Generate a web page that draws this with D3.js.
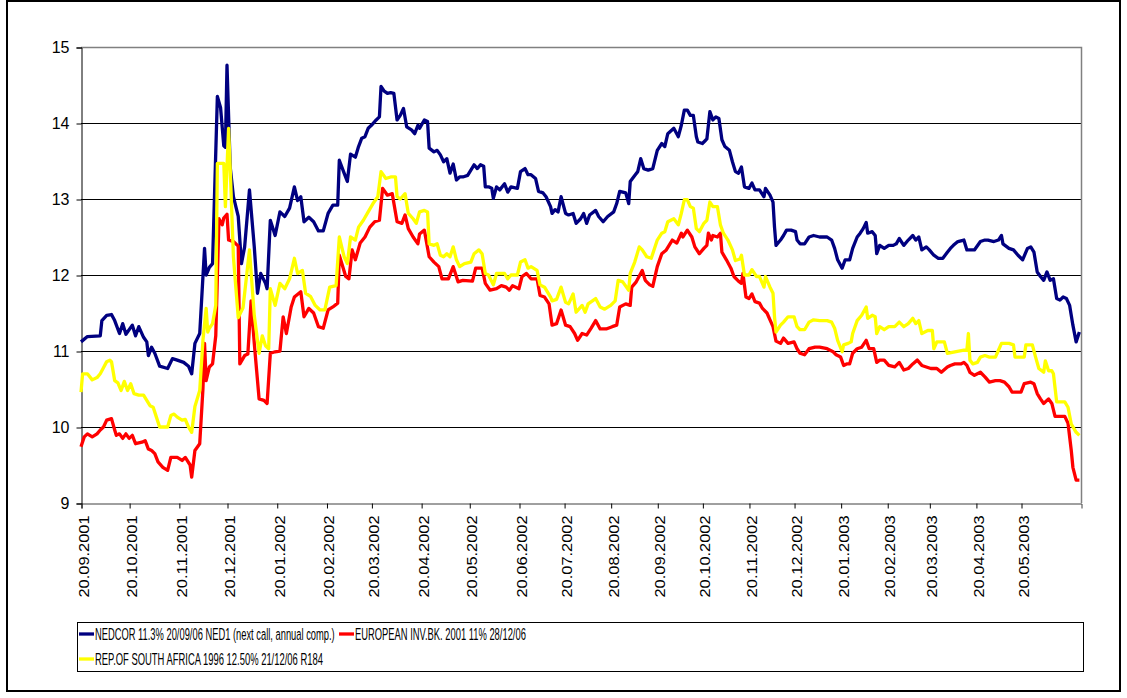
<!DOCTYPE html>
<html>
<head>
<meta charset="utf-8">
<script src="https://cdn.jsdelivr.net/npm/d3@7"></script>
<style>
body{margin:0;background:#fff}
svg{display:block;font-family:"Liberation Sans",Arial,sans-serif}
</style>
</head>
<body>
<script>
////Data
///Start of the series, every point is [days after 20.09.2001, yield in %]
var startDate = new Date(2001,8,20)

var nedcor = [[0,11.12],[4,11.19],[12,11.2],[13,11.4],[16,11.47],[19,11.48],[21,11.4],[24,11.23],[26,11.36],[28,11.22],[32,11.34],[34,11.2],[36,11.32],[39,11.18],[41,11.12],[42,10.94],[44,11.05],[46,10.97],[49,10.8],[54,10.77],[57,10.9],[60,10.88],[64,10.85],[67,10.8],[69,10.7],[71,11.1],[74,11.23],[77,12.35],[78,12.0],[80,12.1],[82,12.15],[85,14.35],[87,14.2],[89,13.7],[90,13.68],[91,14.76],[93,13.42],[95,13.03],[98,12.77],[100,12.15],[102,12.37],[105,13.12],[108,12.37],[110,11.76],[112,12.02],[115,11.89],[116,11.82],[118,12.72],[121,12.52],[124,12.83],[127,12.77],[130,12.88],[133,13.16],[135,12.98],[137,13.03],[139,12.7],[142,12.76],[145,12.7],[148,12.58],[151,12.58],[154,12.81],[157,12.92],[160,12.92],[161,13.51],[164,13.34],[166,13.23],[168,13.59],[171,13.55],[173,13.69],[175,13.8],[177,13.82],[179,13.93],[181,13.97],[184,14.04],[186,14.08],[187,14.48],[189,14.42],[191,14.39],[193,14.4],[195,14.39],[197,14.04],[199,14.1],[201,14.19],[203,13.95],[206,13.91],[208,13.86],[210,13.97],[211,13.93],[214,14.04],[216,14.02],[217,13.67],[220,13.62],[222,13.64],[224,13.58],[226,13.49],[228,13.53],[230,13.34],[232,13.46],[234,13.25],[236,13.29],[238,13.29],[241,13.31],[245,13.45],[247,13.4],[249,13.45],[251,13.43],[252,13.16],[254,13.16],[256,13.14],[257,13.01],[259,13.16],[261,13.12],[264,13.2],[266,13.09],[268,13.16],[272,13.14],[274,13.36],[277,13.4],[279,13.32],[281,13.32],[284,13.27],[286,13.1],[289,13.08],[291,13.03],[294,12.9],[295,12.81],[297,12.86],[299,12.83],[301,13.03],[304,12.81],[306,12.79],[309,12.81],[311,12.68],[314,12.74],[316,12.81],[318,12.68],[320,12.79],[324,12.85],[326,12.77],[329,12.7],[332,12.77],[336,12.83],[338,12.94],[340,13.1],[344,13.08],[346,12.94],[347,13.23],[350,13.31],[352,13.36],[354,13.53],[356,13.4],[359,13.38],[362,13.4],[365,13.64],[368,13.73],[370,13.69],[372,13.86],[376,13.93],[379,13.82],[381,13.97],[383,14.17],[385,14.17],[387,14.1],[389,14.1],[391,13.82],[392,13.75],[395,13.73],[397,13.77],[398,13.79],[400,14.15],[402,14.04],[404,14.08],[406,14.06],[408,13.78],[410,13.69],[413,13.64],[415,13.49],[417,13.36],[419,13.34],[421,13.42],[423,13.16],[426,13.14],[428,13.21],[430,13.12],[433,13.12],[436,13.03],[437,13.14],[440,13.05],[442,12.96],[443,12.63],[444,12.39],[447,12.46],[449,12.52],[451,12.59],[454,12.59],[457,12.57],[458,12.46],[460,12.41],[463,12.41],[466,12.5],[469,12.52],[473,12.5],[478,12.5],[481,12.46],[483,12.35],[485,12.2],[488,12.09],[490,12.2],[493,12.2],[495,12.35],[498,12.5],[500,12.55],[502,12.61],[504,12.69],[505,12.55],[508,12.57],[510,12.52],[511,12.28],[513,12.39],[516,12.35],[519,12.39],[522,12.39],[524,12.41],[526,12.48],[529,12.39],[532,12.46],[535,12.52],[537,12.46],[539,12.5],[541,12.33],[544,12.37],[546,12.33],[549,12.26],[552,12.22],[555,12.22],[558,12.3],[560,12.35],[562,12.39],[565,12.44],[569,12.46],[571,12.33],[574,12.33],[576,12.33],[580,12.44],[583,12.46],[585,12.46],[589,12.44],[592,12.46],[594,12.52],[595,12.41],[599,12.35],[602,12.33],[605,12.26],[608,12.2],[611,12.35],[613,12.37],[615,12.3],[617,12.04],[619,11.98],[621,11.93],[623,12.04],[625,11.93],[627,11.95],[629,11.69],[631,11.67],[633,11.71],[635,11.69],[637,11.6],[639,11.34],[641,11.12],[643,11.25]]

var eib = [[0,9.74],[2,9.87],[4,9.91],[7,9.87],[10,9.91],[12,9.96],[14,10.0],[16,10.09],[19,10.11],[21,9.96],[22,9.89],[24,9.91],[26,9.85],[28,9.91],[30,9.85],[32,9.89],[34,9.78],[38,9.8],[40,9.82],[42,9.71],[44,9.69],[46,9.65],[48,9.54],[51,9.47],[54,9.43],[56,9.6],[60,9.6],[63,9.56],[65,9.6],[68,9.5],[69,9.34],[71,9.69],[74,9.78],[76,10.5],[77,11.1],[78,10.61],[80,10.79],[82,10.83],[84,11.2],[86,12.74],[88,12.66],[89,12.75],[91,12.8],[92,12.46],[95,12.44],[98,12.38],[99,10.83],[102,10.94],[104,10.96],[106,11.66],[108,11.1],[111,10.37],[114,10.35],[116,10.31],[118,10.97],[121,10.99],[124,11.0],[126,11.45],[128,11.23],[131,11.58],[133,11.71],[137,11.78],[139,11.45],[142,11.56],[145,11.5],[148,11.32],[151,11.3],[154,11.54],[157,11.58],[160,11.63],[161,12.26],[165,11.98],[167,11.95],[169,12.33],[171,12.2],[174,12.42],[177,12.5],[180,12.63],[183,12.7],[186,12.72],[188,13.14],[191,13.05],[194,13.07],[197,12.7],[200,12.68],[202,12.79],[204,12.61],[207,12.5],[210,12.41],[211,12.54],[214,12.59],[217,12.24],[220,12.17],[223,12.11],[225,11.95],[229,11.95],[232,12.11],[235,11.91],[238,11.93],[244,11.92],[246,12.09],[250,12.09],[252,11.89],[255,11.8],[259,11.82],[262,11.86],[265,11.84],[267,11.8],[269,11.86],[273,11.82],[275,11.98],[278,12.02],[281,11.95],[285,11.95],[287,11.73],[290,11.71],[293,11.62],[295,11.34],[298,11.36],[301,11.54],[304,11.34],[307,11.32],[310,11.23],[312,11.14],[315,11.23],[318,11.21],[321,11.3],[324,11.4],[327,11.29],[331,11.29],[335,11.32],[338,11.34],[340,11.58],[344,11.62],[347,11.6],[348,11.84],[351,11.91],[355,12.06],[357,11.93],[360,11.87],[362,11.85],[365,12.11],[368,12.28],[371,12.33],[375,12.46],[378,12.42],[381,12.55],[382,12.5],[385,12.59],[388,12.5],[390,12.37],[393,12.28],[396,12.35],[398,12.39],[399,12.55],[401,12.46],[402,12.52],[405,12.5],[407,12.55],[408,12.3],[411,12.2],[414,12.09],[416,11.98],[419,11.92],[421,11.89],[422,12.02],[424,11.71],[426,11.69],[428,11.75],[430,11.65],[433,11.63],[435,11.56],[438,11.5],[440,11.41],[442,11.32],[444,11.13],[447,11.1],[449,11.17],[452,11.1],[456,11.12],[458,11.03],[460,10.97],[463,10.95],[466,11.03],[470,11.05],[473,11.05],[478,11.03],[482,10.99],[484,10.95],[487,10.92],[489,10.81],[491,10.83],[493,10.83],[495,10.97],[498,11.03],[501,11.05],[504,11.14],[506,11.03],[509,11.03],[511,10.85],[513,10.88],[516,10.88],[519,10.81],[523,10.79],[526,10.85],[529,10.75],[532,10.77],[535,10.83],[538,10.88],[541,10.81],[544,10.79],[547,10.77],[551,10.77],[554,10.72],[558,10.79],[560,10.81],[563,10.83],[567,10.83],[569,10.85],[571,10.81],[573,10.72],[576,10.68],[580,10.72],[583,10.66],[586,10.59],[590,10.61],[593,10.61],[596,10.59],[599,10.53],[601,10.46],[604,10.46],[607,10.46],[609,10.57],[613,10.59],[615,10.57],[617,10.44],[619,10.37],[621,10.31],[624,10.37],[626,10.31],[628,10.14],[634,10.14],[636,10.05],[638,9.69],[639,9.47],[641,9.3],[643,9.3]]

var rsa = [[0,10.46],[1,10.7],[4,10.7],[7,10.62],[10,10.65],[12,10.7],[14,10.78],[16,10.86],[18,10.88],[19,10.86],[21,10.61],[23,10.58],[25,10.48],[27,10.6],[29,10.48],[31,10.57],[33,10.44],[36,10.42],[39,10.42],[41,10.35],[43,10.28],[45,10.26],[47,10.13],[49,10.0],[54,10.0],[56,10.15],[58,10.17],[60,10.13],[63,10.09],[65,10.1],[67,10.0],[69,9.93],[71,10.27],[74,10.48],[76,11.14],[78,11.56],[79,11.25],[80,11.3],[82,11.36],[84,11.6],[85,13.47],[89,13.47],[90,12.9],[92,13.93],[93,13.4],[95,12.24],[98,11.44],[101,11.57],[105,12.33],[108,11.47],[111,10.97],[113,11.2],[115,11.07],[117,11.03],[118,11.82],[121,11.6],[124,11.89],[127,11.82],[130,11.95],[133,12.22],[135,12.02],[138,12.06],[140,11.76],[143,11.72],[146,11.6],[149,11.54],[152,11.54],[155,11.84],[159,11.86],[161,12.5],[164,12.24],[166,12.15],[168,12.5],[171,12.46],[173,12.63],[176,12.72],[179,12.83],[182,12.94],[185,13.03],[187,13.36],[190,13.27],[193,13.29],[196,13.29],[197,13.03],[199,13.0],[202,13.07],[204,12.81],[207,12.74],[209,12.68],[211,12.83],[214,12.85],[216,12.83],[217,12.41],[220,12.39],[222,12.41],[224,12.26],[226,12.24],[228,12.28],[230,12.24],[232,12.37],[234,12.2],[236,12.11],[239,12.15],[243,12.17],[245,12.28],[248,12.33],[250,12.28],[252,12.02],[254,12.0],[257,11.87],[259,12.02],[264,12.02],[266,11.95],[268,12.0],[272,12.0],[274,12.17],[277,12.2],[279,12.09],[281,12.11],[285,12.06],[287,11.87],[290,11.84],[294,11.71],[295,11.66],[298,11.68],[301,11.84],[304,11.64],[306,11.62],[309,11.75],[311,11.51],[315,11.6],[317,11.51],[319,11.62],[324,11.69],[327,11.58],[330,11.55],[334,11.6],[337,11.66],[339,11.93],[342,11.91],[346,11.8],[347,12.02],[350,12.17],[353,12.37],[355,12.33],[358,12.24],[361,12.22],[365,12.46],[368,12.55],[370,12.57],[372,12.7],[376,12.74],[379,12.66],[381,12.81],[383,12.99],[385,12.99],[387,12.9],[389,12.88],[391,12.61],[393,12.57],[396,12.68],[398,12.72],[400,12.96],[402,12.9],[405,12.9],[407,12.66],[409,12.55],[412,12.46],[415,12.33],[417,12.19],[420,12.21],[421,12.26],[423,12.0],[426,12.0],[428,12.07],[431,11.98],[433,11.98],[436,11.84],[437,11.98],[440,11.84],[442,11.76],[443,11.45],[444,11.25],[447,11.34],[449,11.38],[452,11.45],[456,11.45],[458,11.32],[460,11.28],[463,11.28],[466,11.38],[469,11.41],[473,11.4],[478,11.4],[481,11.38],[483,11.3],[485,11.14],[488,10.99],[489,11.08],[492,11.1],[494,11.12],[495,11.23],[498,11.4],[501,11.47],[504,11.58],[505,11.43],[508,11.47],[510,11.45],[511,11.23],[513,11.32],[516,11.28],[519,11.32],[523,11.32],[526,11.38],[529,11.32],[532,11.36],[535,11.43],[537,11.36],[539,11.4],[541,11.23],[545,11.27],[548,11.27],[549,11.03],[551,11.12],[556,11.12],[558,10.97],[563,10.99],[569,11.01],[571,11.01],[572,11.23],[573,10.88],[575,10.83],[578,10.85],[580,10.92],[583,10.94],[586,10.92],[590,10.92],[592,11.01],[594,11.1],[599,11.1],[602,11.08],[603,10.92],[606,10.92],[609,10.92],[610,11.08],[614,11.08],[616,10.92],[618,10.77],[621,10.72],[622,10.87],[624,10.74],[626,10.74],[627,10.7],[629,10.33],[634,10.33],[636,10.26],[638,10.04],[641,9.93],[643,9.89]]

///Axis labels
var monthLabels = ["20.09.2001","20.10.2001","20.11.2001","20.12.2001","20.01.2002","20.02.2002","20.03.2002","20.04.2002","20.05.2002","20.06.2002","20.07.2002","20.08.2002","20.09.2002","20.10.2002","20.11.2002","20.12.2002","20.01.2003","20.02.2003","20.03.2003","20.04.2003","20.05.2003"]
var yTicks = [9,10,11,12,13,14,15]

///Series names and colours, in legend order
var seriesNames = ["NEDCOR 11.3% 20/09/06 NED1 (next call, annual comp.)","EUROPEAN INV.BK. 2001 11% 28/12/06","REP.OF SOUTH AFRICA 1996 12.50% 21/12/06 R184"]
var seriesColors = ["#000080","#ff0000","#ffff00"]
var seriesData = [nedcor,eib,rsa]

////Creating the chart
var W = 1127, H = 698
var svg = d3.select("body").append("svg").attr("width",W).attr("height",H)

//Outer frame round the whole picture
svg.append("rect").attr("x",7).attr("y",1).attr("width",1113).attr("height",690)
    .attr("fill","#fff").attr("stroke","#000").attr("stroke-width",2)

var plot = {left:81, right:1081, top:47, bottom:503}
var parseDay = d3.timeParse("%d.%m.%Y")
var tickDates = monthLabels.map(parseDay)

//The original axis is not evenly spaced in days, so a piecewise time scale is used
var x = d3.scaleTime()
    .domain([startDate, parseDay("20.06.2002"), parseDay("20.05.2003"), d3.timeDay.offset(startDate,644)])
    .range([plot.left, 519, 1021, plot.right])

var y = d3.scaleLinear().domain([9,15]).range([plot.bottom,plot.top])

///Gridlines
svg.append("g").selectAll("line")
    .data(yTicks.filter(function(d){return d>9 && d<15}))
    .enter().append("line")
    .attr("x1",plot.left).attr("x2",plot.right)
    .attr("y1",function(d){return Math.round(y(d))+0.5})
    .attr("y2",function(d){return Math.round(y(d))+0.5})
    .attr("stroke","#000").attr("stroke-width",1)

//Plot area border on top and right
svg.append("path")
    .attr("d","M"+plot.left+","+(plot.top+0.5)+"H"+(plot.right+0.5)+"V"+plot.bottom)
    .attr("fill","none").attr("stroke","#808080").attr("stroke-width",1.5)

///Y axis
var yAxis = svg.append("g").attr("transform","translate("+(plot.left+0.5)+",0.5)")
    .call(d3.axisLeft(y).tickValues(yTicks).tickSize(5).tickFormat(d3.format("d")))
yAxis.select(".domain").attr("stroke","#000")
yAxis.selectAll("text").attr("font-size","16px").attr("fill","#000")
    .attr("font-family","'Liberation Sans',Arial,sans-serif").attr("x",-12)

///X axis
var xAxis = svg.append("g").attr("transform","translate(0.5,"+(plot.bottom+0.5)+")")
    .call(d3.axisBottom(x).tickValues(tickDates).tickSize(5).tickFormat(d3.timeFormat("%d.%m.%Y")))
xAxis.select(".domain").attr("stroke","#404040")
xAxis.selectAll("text")
    .attr("font-size","14px").attr("fill","#000")
    .attr("font-family","'Liberation Sans',Arial,sans-serif")
    .attr("text-anchor","end")
    .attr("transform","rotate(-90)")
    .attr("x",-12).attr("y",2).attr("dy","0.35em")
    .attr("textLength",82).attr("lengthAdjust","spacingAndGlyphs")

///Series lines
var line = d3.line()
    .x(function(d){return x(d3.timeDay.offset(startDate,d[0]))})
    .y(function(d){return y(d[1])})

svg.append("g").selectAll("path")
    .data(seriesData)
    .enter().append("path")
    .attr("d",line)
    .attr("fill","none")
    .attr("stroke",function(d,i){return seriesColors[i]})
    .attr("stroke-width",3.3)
    .attr("stroke-linejoin","round")

////Legend
var legend = svg.append("g")
legend.append("rect").attr("x",77.5).attr("y",622.5).attr("width",1006).attr("height",49)
    .attr("fill","#fff").attr("stroke","#000").attr("stroke-width",1)

var legendItems = [
    {x:79, y:634, width:240},
    {x:339, y:634, width:171},
    {x:79, y:659, width:228}
] //Where each entry sits and how wide its text is

var entry = legend.selectAll(".entry").data(legendItems)
    .enter().append("g").attr("class","entry")

entry.append("line")
    .attr("x1",function(d){return d.x}).attr("x2",function(d){return d.x+15})
    .attr("y1",function(d){return d.y}).attr("y2",function(d){return d.y})
    .attr("stroke",function(d,i){return seriesColors[i]}).attr("stroke-width",3.3)

//The legend font is a narrow one, so each text is squeezed sideways to its width
entry.append("text")
    .attr("font-size","17px")
    .text(function(d,i){return seriesNames[i]})
    .attr("transform",function(d){
        var k = d.width/this.getComputedTextLength()
        return "translate("+(d.x+16)+","+(d.y+6)+") scale("+k+",1)"
    })
</script>
</body>
</html>
